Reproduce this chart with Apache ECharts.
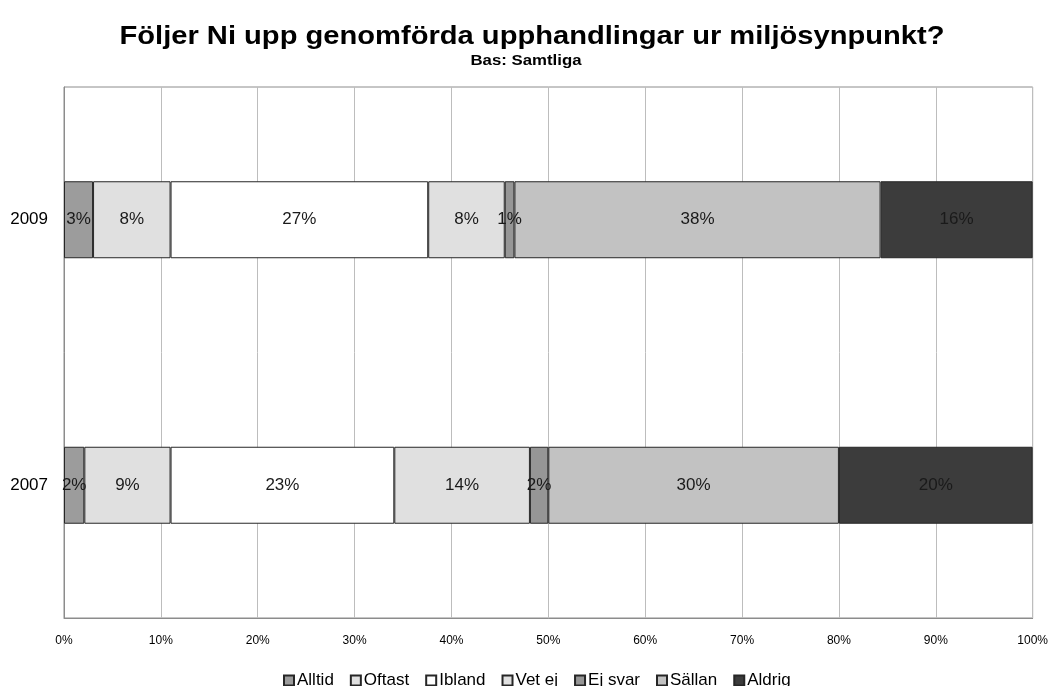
<!DOCTYPE html>
<html>
<head>
<meta charset="utf-8">
<script src="https://cdn.jsdelivr.net/npm/echarts@6/dist/echarts.min.js"></script>
<style>
  html, body { margin: 0; padding: 0; background: #fff; }
  #chart { width: 1051px; height: 686px; }
</style>
</head>
<body>
<div id="chart"></div>
<script>
// categories, bottom to top (ECharts category y axis starts at the bottom)
const years = ['2007', '2009']
const seriesNames = ['Alltid', 'Oftast', 'Ibland', 'Vet ej', 'Ej svar', 'Sällan', 'Aldrig']
const seriesColors = ['#9c9c9c', '#e0e0e0', '#ffffff', '#e0e0e0', '#969696', '#c2c2c2', '#3c3c3c']

// share in percent, per answer: [2007, 2009]
const alltid = [2.1, 3.0]
const oftast = [8.9, 8.0]
const ibland = [23.1, 26.6]
const vetEj = [14.0, 7.9]
const ejSvar = [1.9, 1.0]
const sallan = [30.0, 37.8]
const aldrig = [20.0, 15.7]

const xTicks = [0, 10, 20, 30, 40, 50, 60, 70, 80, 90, 100]

const values = [alltid, oftast, ibland, vetEj, ejSvar, sallan, aldrig]
const font = 'Liberation Sans, Arial, sans-serif'

const chart = echarts.init(document.getElementById('chart'))

const series = seriesNames.map((name, i) => ({
  type: 'bar',
  name: name,
  stack: 'total',
  data: values[i],
  barWidth: '29%',
  itemStyle: {
    color: seriesColors[i],
    borderColor: '#262626',
    borderWidth: 1
  },
  label: {
    show: true,
    position: 'inside',
    formatter: p => Math.round(p.value) + '%',
    fontFamily: font,
    fontSize: 17,
    color: '#1a1a1a'
  },
  emphasis: { disabled: true }
}))

// title text is a bit wider in the original, so it is stretched sideways
const titleText = (text, x, y, size, sx) => ({
  type: 'text',
  x: x,
  y: y,
  scaleX: sx,
  silent: true,
  style: {
    text: text,
    x: 0,
    y: 0,
    align: 'center',
    verticalAlign: 'middle',
    textAlign: 'center',
    textVerticalAlign: 'middle',
    fontFamily: font,
    fontSize: size,
    fontWeight: 'bold',
    fill: '#000'
  }
})

chart.setOption({
  animation: false,
  backgroundColor: '#fff',
  graphic: [
    titleText('Följer Ni upp genomförda upphandlingar ur miljösynpunkt?', 532, 37, 26, 1.12),
    titleText('Bas: Samtliga', 526, 61, 15, 1.12)
  ],
  legend: {
    data: seriesNames,
    top: 667,
    left: 278,
    itemWidth: 10,
    itemHeight: 10,
    itemGap: 16,
    icon: 'rect',
    textStyle: { fontFamily: font, fontSize: 17, color: '#000', padding: [0, 0, 0, -2] },
    selectedMode: false
  },
  grid: {
    left: 64,
    right: 18,
    top: 87,
    bottom: 68,
    show: true,
    borderColor: '#8c8c8c',
    borderWidth: 1
  },
  xAxis: {
    type: 'value',
    min: 0,
    max: 100,
    interval: 10,
    axisLine: { show: true, lineStyle: { color: '#8c8c8c' } },
    axisTick: { show: false },
    splitLine: { show: true, lineStyle: { color: '#bdbdbd' } },
    axisLabel: {
      formatter: v => (xTicks.includes(v) ? v + '%' : ''),
      fontFamily: font,
      fontSize: 12,
      color: '#000',
      margin: 17
    }
  },
  yAxis: {
    type: 'category',
    data: years,
    axisLine: { show: true, lineStyle: { color: '#8c8c8c' } },
    axisTick: { show: false },
    axisLabel: { fontFamily: font, fontSize: 17, color: '#000', margin: 16 }
  },
  series: series
})
</script>
</body>
</html>
